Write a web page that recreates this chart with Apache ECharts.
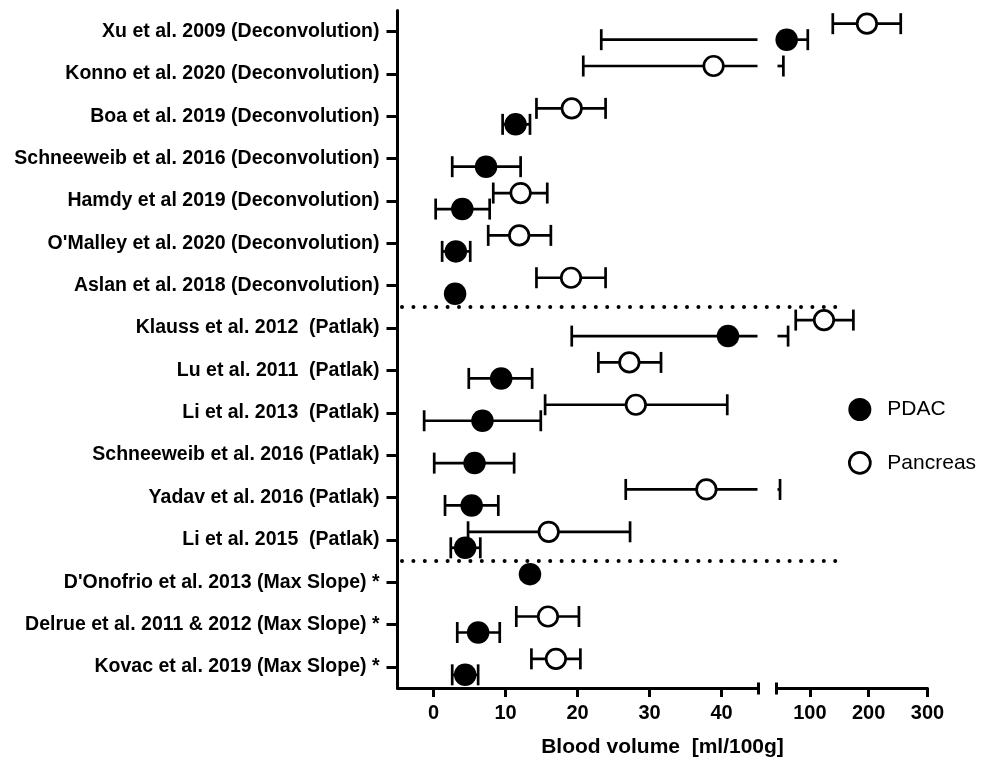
<!DOCTYPE html>
<html>
<head>
<meta charset="utf-8">
<script src="https://cdn.jsdelivr.net/npm/echarts@6/dist/echarts.min.js"></script>
<style>
html,body{margin:0;padding:0;background:#fff;}
#chart{width:988px;height:762px;}
</style>
</head>
<body>
<div id="chart"></div>
<script>
// ---------------- DATA ----------------
const categories = [
  'Xu et al. 2009 (Deconvolution)',
  'Konno et al. 2020 (Deconvolution)',
  'Boa et al. 2019 (Deconvolution)',
  'Schneeweib et al. 2016 (Deconvolution)',
  'Hamdy et al 2019 (Deconvolution)',
  "O'Malley et al. 2020 (Deconvolution)",
  'Aslan et al. 2018 (Deconvolution)',
  'Klauss et al. 2012  (Patlak)',
  'Lu et al. 2011  (Patlak)',
  'Li et al. 2013  (Patlak)',
  'Schneeweib et al. 2016 (Patlak)',
  'Yadav et al. 2016 (Patlak)',
  'Li et al. 2015  (Patlak)',
  "D'Onofrio et al. 2013 (Max Slope) *",
  'Delrue et al. 2011 & 2012 (Max Slope) *',
  'Kovac et al. 2019 (Max Slope) *'
];
const pdacMean = [60.6, null, 11.4, 7.3, 4.0, 3.1, 3.0, 40.9, 9.4, 6.8, 5.7, 5.3, 4.4, 13.4, 6.2, 4.4];
const pdacLow  = [23.3, null, 9.6, 2.6, 0.3, 1.2, null, 19.2, 4.9, -1.3, 0.1, 1.6, 2.4, null, 3.3, 2.6];
const pdacHigh = [96.5, null, 13.4, 12.1, 7.8, 5.1, null, 63.0, 13.7, 14.9, 11.2, 9.0, 6.5, null, 9.2, 6.2];
const pancMean = [197, 38.9, 19.2, null, 12.1, 11.9, 19.1, 124, 27.2, 28.1, null, 37.9, 16.0, null, 15.9, 17.0];
const pancLow  = [139, 20.8, 14.3, null, 8.3, 7.6, 14.3, 76, 22.9, 15.5, null, 26.7, 4.8, null, 11.5, 13.6];
const pancHigh = [254.5, 55.0, 23.9, null, 15.8, 16.3, 23.9, 174, 31.6, 40.8, null, 49.3, 27.3, null, 20.2, 20.4];
const leftTicks = [0, 10, 20, 30, 40];
const rightTicks = [100, 200, 300];
const seriesNames = ['PDAC', 'Pancreas'];
const axisTitle = 'Blood volume  [ml/100g]';

// ---------------- LAYOUT / STYLE ----------------
const FONT = "'Liberation Sans', Arial, Helvetica, sans-serif";
const X_MIN = -5, X_BREAK = 45, X_MAX = 300;
const G0 = {left: 397.5, top: 10.5, width: 360, height: 677.5};
const G1 = {left: 777.5, top: 10.5, width: 150, height: 677.5};
const ROW_SHIFT = 8;          // px offset of the two groups around each row
const SEP_END = 150;          // where the dotted separators stop (axis units, right segment)
const flipRows = new Set([13]); // PDAC point drawn above the row line
const LW = 2.7;

function dyOf(group, row) {
  const s = group === 0 ? ROW_SHIFT : -ROW_SHIFT;
  return (group === 0 && flipRows.has(row)) ? -s : s;
}

// method of each study, separators between method blocks
const methods = categories.map(c => (c.match(/\(([^)]*)\)/) || [,''])[1]);
const sepRows = [];
for (let i = 0; i < methods.length - 1; i++) if (methods[i] !== methods[i + 1]) sepRows.push(i);

function errData(low, high) {
  const out = [];
  low.forEach((v, i) => { if (v != null && high[i] != null) out.push([v, high[i], i]); });
  return out;
}

function errorSeries(name, gi, low, high, group) {
  const a0 = gi === 0 ? X_MIN : X_BREAK;
  const b0 = gi === 0 ? X_BREAK : X_MAX;
  return {
    type: 'custom', name: name, xAxisIndex: gi, yAxisIndex: gi, z: 2, silent: true,
    encode: {x: [0, 1], y: 2},
    data: errData(low, high),
    renderItem: function (params, api) {
      const lo = api.value(0), hi = api.value(1), row = api.value(2);
      const a = Math.max(lo, a0), b = Math.min(hi, b0);
      if (!(b > a)) return null;
      const dy = dyOf(group, row);
      const p1 = api.coord([a, row]), p2 = api.coord([b, row]);
      const y = p1[1] + dy;
      const st = {stroke: '#000', lineWidth: LW};
      const ch = [{type: 'line', shape: {x1: p1[0], y1: y, x2: p2[0], y2: y}, style: st}];
      if (lo >= a0) ch.push({type: 'line', shape: {x1: p1[0], y1: y - 10.5, x2: p1[0], y2: y + 10.5}, style: st});
      if (hi <= b0) ch.push({type: 'line', shape: {x1: p2[0], y1: y - 10.5, x2: p2[0], y2: y + 10.5}, style: st});
      return {type: 'group', children: ch};
    }
  };
}

const styles = [
  {symbolSize: 22.5, itemStyle: {color: '#000', opacity: 1}},
  {symbolSize: 19.5, itemStyle: {color: '#fff', borderColor: '#000', borderWidth: 2.7, opacity: 1}}
];

function scatterSeries(group, gi, mean) {
  const data = [];
  mean.forEach((v, i) => {
    if (v == null) return;
    const inside = gi === 0 ? v <= X_BREAK : v > X_BREAK;
    if (inside) data.push({value: [v, i], symbolOffset: [0, dyOf(group, i)]});
  });
  return Object.assign({
    type: 'scatter', name: seriesNames[group], xAxisIndex: gi, yAxisIndex: gi,
    z: 3, symbol: 'circle', data: data, silent: true
  }, styles[group]);
}

const breakCaps = [0, 1].map(gi => ({
  type: 'custom', name: 'break' + gi, xAxisIndex: gi, yAxisIndex: gi, z: 4, silent: true,
  encode: {x: 0, y: 1},
  data: [[X_BREAK, 0]],
  renderItem: function (params, api) {
    const cs = params.coordSys;
    const x = api.coord([X_BREAK, 0])[0] + (gi === 0 ? 1 : -1);
    const y = cs.y + cs.height;
    return {type: 'line', shape: {x1: x, y1: y - 5.5, x2: x, y2: y + 6.5},
            style: {stroke: '#000', lineWidth: 3}};
  }
}));

const separators = {
  type: 'custom', name: 'sep', xAxisIndex: 1, yAxisIndex: 1, z: 1, silent: true,
  encode: {x: 0, y: 1},
  data: sepRows.map(r => [SEP_END, r]),
  renderItem: function (params, api) {
    const row = api.value(1);
    const y = (api.coord([X_BREAK, row])[1] + api.coord([X_BREAK, row + 1])[1]) / 2;
    const xEnd = api.coord([api.value(0), row])[0];
    return {type: 'line', shape: {x1: G0.left + 4.5, y1: y, x2: xEnd, y2: y},
            style: {stroke: '#000', lineWidth: 4, lineDash: [0.01, 11.39], lineCap: 'round'}};
  }
};

function xAxisOf(gi, min, max, ticks) {
  return {
    type: 'value', gridIndex: gi, min: min, max: max,
    axisLine: {show: true, onZero: false, lineStyle: {color: '#000', width: 3}},
    axisTick: {show: true, customValues: ticks, length: 9, lineStyle: {color: '#000', width: 3}},
    axisLabel: {show: true, customValues: ticks, margin: 15, color: '#000',
                fontSize: 20, fontWeight: 'bold', fontFamily: FONT},
    splitLine: {show: false}
  };
}

const chart = echarts.init(document.getElementById('chart'), null, {renderer: 'canvas'});
chart.setOption({
  animation: false,
  backgroundColor: '#fff',
  grid: [
    Object.assign({outerBoundsMode: 'none', containLabel: false}, G0),
    Object.assign({outerBoundsMode: 'none', containLabel: false}, G1)
  ],
  title: {
    text: axisTitle, left: 662.5, top: 737, textAlign: 'center', padding: 0,
    textStyle: {fontSize: 21, fontWeight: 'bold', color: '#000', fontFamily: FONT}
  },
  legend: {
    orient: 'vertical', left: 843, top: 393, itemWidth: 21, itemHeight: 21, itemGap: 30,
    selectedMode: false,
    data: [
      {name: seriesNames[0], icon: 'circle', itemStyle: {color: '#000', borderColor: '#000', borderWidth: 2, opacity: 1}},
      {name: seriesNames[1], icon: 'circle', itemStyle: {color: '#fff', borderColor: '#000', borderWidth: 2.7, opacity: 1}}
    ],
    textStyle: {fontSize: 21, color: '#000', fontFamily: FONT, padding: [0, 0, 0, 12]}
  },
  xAxis: [
    xAxisOf(0, X_MIN, X_BREAK, leftTicks),
    xAxisOf(1, X_BREAK, X_MAX, rightTicks)
  ],
  yAxis: [
    {
      type: 'category', gridIndex: 0, data: categories, inverse: true,
      axisLine: {show: true, onZero: false, lineStyle: {color: '#000', width: 3}},
      axisTick: {show: true, alignWithLabel: true, interval: 0, length: 11, lineStyle: {color: '#000', width: 3}},
      axisLabel: {show: true, interval: 0, margin: 18, color: '#000',
                  fontSize: 19.5, fontWeight: 'bold', fontFamily: FONT},
      splitLine: {show: false}
    },
    {type: 'category', gridIndex: 1, data: categories, inverse: true, show: false}
  ],
  series: [
    separators,
    errorSeries('PDAC err L', 0, pdacLow, pdacHigh, 0),
    errorSeries('PDAC err R', 1, pdacLow, pdacHigh, 0),
    errorSeries('Pancreas err L', 0, pancLow, pancHigh, 1),
    errorSeries('Pancreas err R', 1, pancLow, pancHigh, 1),
    scatterSeries(0, 0, pdacMean),
    scatterSeries(0, 1, pdacMean),
    scatterSeries(1, 0, pancMean),
    scatterSeries(1, 1, pancMean)
  ].concat(breakCaps)
});
</script>
</body>
</html>
